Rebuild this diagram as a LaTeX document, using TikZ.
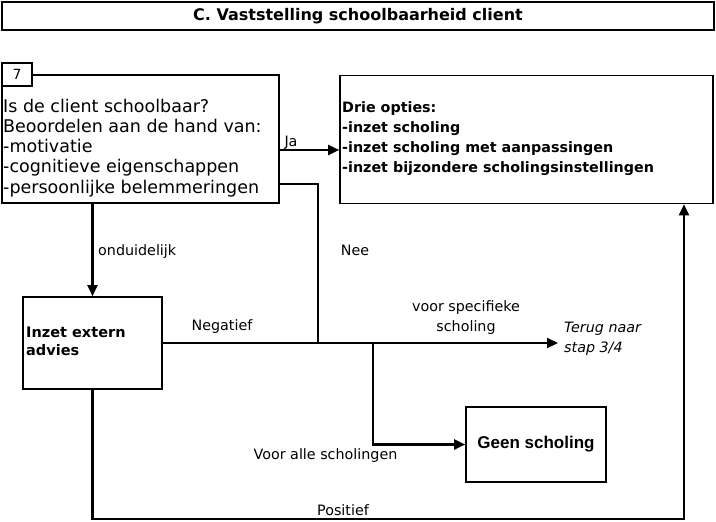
\documentclass[tikz,border=0pt]{standalone}
\usepackage{fontspec}
\setmainfont{DejaVu Sans}
\newfontfamily\arialfont{Liberation Sans}
\usetikzlibrary{arrows.meta}

\begin{document}
\begin{tikzpicture}[x=1pt,y=-1pt,
    box/.style={draw,line width=1.6pt,inner sep=0pt},
    conn/.style={line width=2.2pt},
    arr/.style={conn,-{Triangle[length=11pt,width=10pt]}},
    lbl/.style={inner sep=0pt,font=\fontsize{14.3}{19.5}\selectfont}]
    \useasboundingbox (0,0) rectangle (716,522);

    \node[box,minimum width=712pt,minimum height=28pt,font=\bfseries\fontsize{16}{19}\selectfont] (title) at (358,16) {C. Vaststelling schoolbaarheid client};

    \node[box,minimum width=277pt,minimum height=128pt] (check) at (140.5,139) {};
    \node[box,fill=white,minimum width=30pt,minimum height=23pt,font=\fontsize{14}{14}\selectfont] (nr) at (17,74.5) {7};
    \node[anchor=north west,align=left,inner sep=0pt,font=\fontsize{17.5}{20.25}\selectfont] (checktext) at (3,98.7) {Is de client schoolbaar?\\Beoordelen aan de hand van:\\-motivatie\\-cognitieve eigenschappen\\-persoonlijke belemmeringen};

    \node[box,minimum width=373pt,minimum height=128pt] (opts) at (526.5,139.5) {};
    \node[anchor=north west,align=left,inner sep=0pt,font=\bfseries\fontsize{14.3}{20.2}\selectfont] (optstext) at (342,101) {Drie opties:\\-inzet scholing\\-inzet scholing met aanpassingen\\-inzet bijzondere scholingsinstellingen};

    \node[box,minimum width=139pt,minimum height=92pt] (advies) at (92.5,343) {};
    \node[anchor=north west,align=left,inner sep=0pt,font=\bfseries\fontsize{14.5}{18.5}\selectfont] (adviestext) at (26,326.4) {Inzet extern\\advies};

    \node[box,minimum width=140pt,minimum height=75pt,font=\arialfont\bfseries\fontsize{17}{20}\selectfont] (geen) at (536,444.5) {Geen scholing};

    \node[lbl,anchor=base] (ja) at (291,146) {Ja};
    \node[lbl,anchor=base west] (ond) at (98,255) {onduidelijk};
    \node[lbl,anchor=base] (nee) at (355,255) {Nee};
    \node[lbl,anchor=base] (neg) at (222,330) {Negatief};
    \node[lbl,align=center,anchor=north] (spec) at (466,300.5) {voor specifieke\\scholing};
    \node[lbl,align=left,anchor=north west,inner xsep=6pt,font=\itshape\fontsize{14.3}{20.5}\selectfont] (terug) at (558,321.6) {Terug naar\\stap 3/4};
    \node[lbl,anchor=base] (alle) at (325.5,459) {Voor alle scholingen};
    \node[lbl,anchor=base] (pos) at (343,515) {Positief};

    \coordinate (neeend) at (318,343);
    \coordinate (fork) at (373,343);
    \coordinate (pcorner) at (684,519);

    \draw[arr] (check.east |- 0,150) -- (opts.west |- 0,150);
    \draw[conn] (check.east |- 0,184) -| (neeend);
    \draw[arr] (check.south -| advies) -- (advies.north);
    \draw[arr] (advies.east) -- (advies.east -| terug.west);
    \draw[arr] (fork) |- (geen.west);
    \draw[arr] (advies.south) |- (pcorner) -- (pcorner |- opts.south);
\end{tikzpicture}
\end{document}
